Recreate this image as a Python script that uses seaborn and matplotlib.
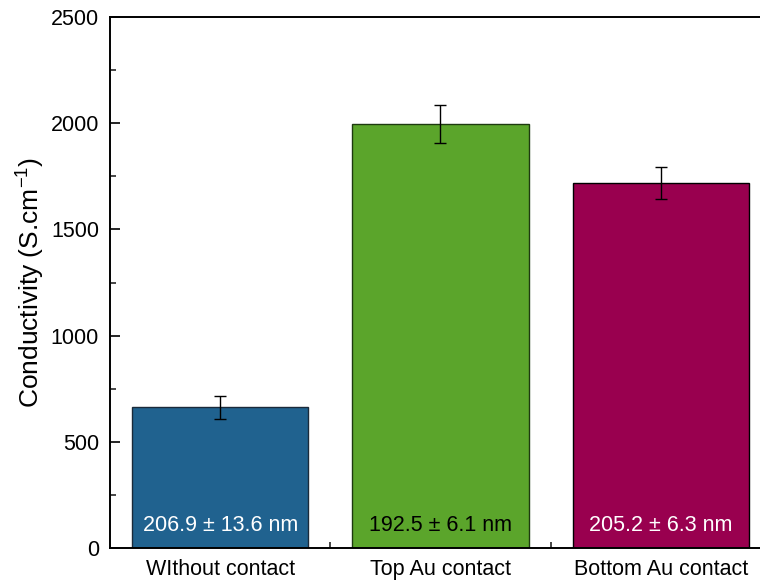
import matplotlib

matplotlib.use("Agg")
import matplotlib.pyplot as plt
import pandas as pd
import seaborn as sns
from matplotlib.ticker import AutoMinorLocator, FixedLocator

# Dados
categories = ["WIthout contact", "Top Au contact", "Bottom Au contact"]
conductivity = [662, 1998, 1720]
errors = [55, 90, 75]
thickness_labels = ["206.9 ± 13.6 nm", "192.5 ± 6.1 nm", "205.2 ± 6.3 nm"]
bar_colors = ["#20628f", "#5ba52b", "#99004f"]
edge_colors = ["#1a2a3a", "#1e3a10", "#000000"]
text_colors = ["white", "black", "white"]

df = pd.DataFrame({"sample": categories, "cond": conductivity})

sns.set_theme(style="ticks")
plt.rcParams["font.family"] = ["Liberation Sans", "DejaVu Sans"]

fig = plt.figure(figsize=(7.6, 5.85), dpi=100)
ax = fig.add_axes([110 / 760, 37 / 585, 661 / 760, 531 / 585])

sns.barplot(
    data=df, x="sample", y="cond", hue="sample", palette=bar_colors,
    width=0.8, saturation=1, legend=False, ax=ax,
)
for patch, ec in zip(ax.patches, edge_colors):
    patch.set_edgecolor(ec)
    patch.set_linewidth(1.0)

ax.errorbar(
    range(len(categories)), conductivity, yerr=errors, fmt="none",
    ecolor="black", elinewidth=1.0, capsize=4.3, capthick=1.0,
)

for i, (lab, tc) in enumerate(zip(thickness_labels, text_colors)):
    ax.text(i, 80, lab, ha="center", va="baseline", color=tc, fontsize=15.5)

ax.set_xlim(-0.5, 2.5)
ax.set_ylim(0, 2500)
ax.set_yticks([0, 500, 1000, 1500, 2000, 2500])
ax.yaxis.set_minor_locator(AutoMinorLocator(2))
ax.xaxis.set_minor_locator(FixedLocator([0.5, 1.5]))
ax.set_xlabel("")
ax.set_ylabel("Conductivity (S.cm$^{\\mathregular{-1}}$)", fontsize=19,
              labelpad=3, color="black")

ax.tick_params(axis="both", which="major", direction="in", length=7.5, width=1.2,
               labelsize=15.5, colors="black")
ax.tick_params(axis="both", which="minor", direction="in", length=4, width=1.2)
ax.tick_params(axis="y", which="major", pad=8)
ax.tick_params(axis="x", which="major", labelsize=15.5, pad=8)
for side in ["left", "bottom", "top", "right"]:
    ax.spines[side].set_visible(True)
    ax.spines[side].set_linewidth(1.4)
    ax.spines[side].set_color("black")

fig.savefig("out.png", dpi=100)
plt.close(fig)
